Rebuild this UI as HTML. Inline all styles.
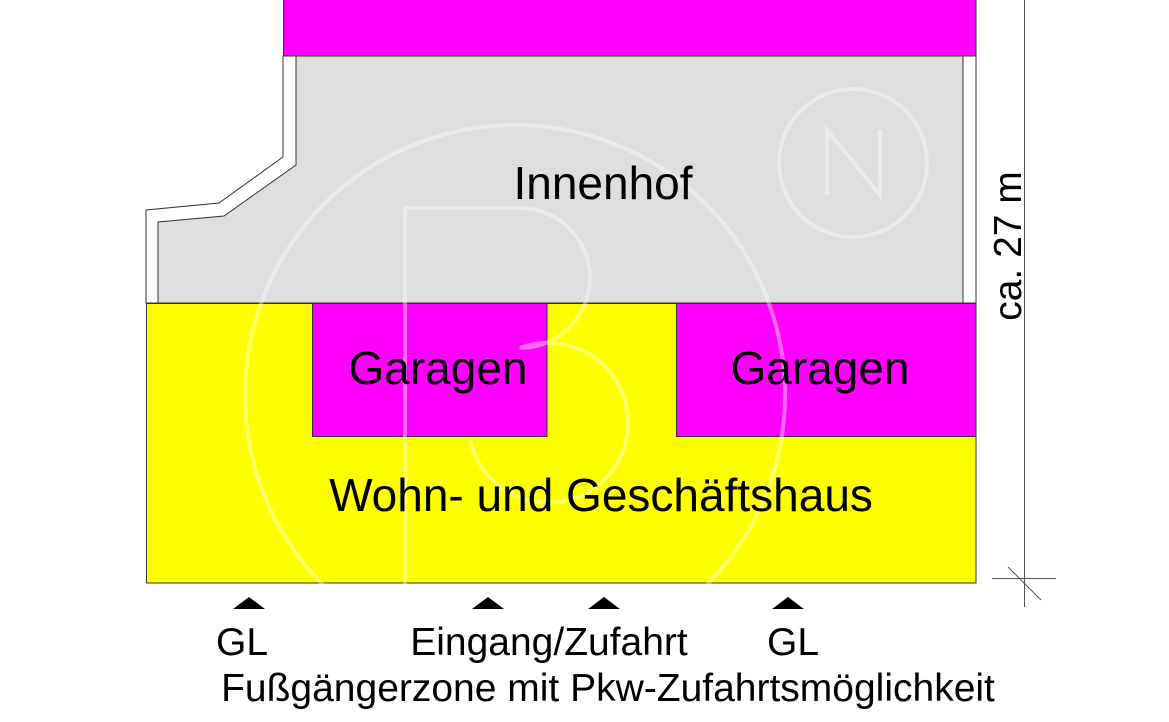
<!DOCTYPE html>
<html><head><style>
html,body{margin:0;padding:0;background:#fff;width:1169px;height:722px;overflow:hidden}
svg text{font-family:"Liberation Sans",sans-serif;fill:#000}
</style></head><body>
<svg width="1169" height="722" viewBox="0 0 1169 722" xmlns="http://www.w3.org/2000/svg">
<rect x="283.5" y="-2" width="692.5" height="58" fill="#ff00ff" stroke="#333" stroke-width="1"/>
<polygon points="146,303 146,210 219,203 283,157 283,56 976,56 976,303" fill="#fff" stroke="#333" stroke-width="1"/>
<polygon points="158,303 158,222 224,216 296,165 296,56 963,56 963,303" fill="#dedede" stroke="#333" stroke-width="1"/>
<rect x="146.5" y="303.5" width="829.5" height="279.5" fill="#ffff00" stroke="#333" stroke-width="1"/>
<rect x="312.5" y="303.5" width="234.5" height="133" fill="#ff00ff" stroke="#333" stroke-width="1"/>
<rect x="676.5" y="303.5" width="299.5" height="133" fill="#ff00ff" stroke="#333" stroke-width="1"/>
<g fill="none" stroke="#fff" stroke-opacity="0.4" stroke-width="4">
<circle cx="515" cy="395" r="270"/>
<circle cx="853" cy="163" r="74"/>
<path d="M405 640 V208 H520 A70 70 0 0 1 520 348 A80 80 0 1 1 470 440"/>
<path d="M827 195 V130 L880 195 V130"/>
</g>
<text x="603" y="199" font-size="46" text-anchor="middle">Innenhof</text>
<text x="438" y="384" font-size="46" text-anchor="middle">Garagen</text>
<text x="820" y="384" font-size="46" text-anchor="middle">Garagen</text>
<text x="601" y="511" font-size="46" text-anchor="middle">Wohn- und Geschäftshaus</text>
<line x1="1024.5" y1="0" x2="1024.5" y2="607" stroke="#555" stroke-width="1"/>
<line x1="992" y1="578.5" x2="1056" y2="578.5" stroke="#555" stroke-width="1"/>
<line x1="1008" y1="567" x2="1041" y2="600" stroke="#555" stroke-width="1"/>
<text transform="translate(1021,246) rotate(-90)" font-size="39" text-anchor="middle">ca. 27 m</text>
<g fill="#000">
<polygon points="233,609 265,609 249,597"/>
<polygon points="472,609 504,609 488,597"/>
<polygon points="588,609 620,609 604,597"/>
<polygon points="772,609 804,609 788,597"/>
</g>
<text x="242" y="655" font-size="39" text-anchor="middle">GL</text>
<text x="549" y="655" font-size="39" text-anchor="middle">Eingang/Zufahrt</text>
<text x="793" y="655" font-size="39" text-anchor="middle">GL</text>
<text x="608" y="701" font-size="39" text-anchor="middle">Fußgängerzone mit Pkw-Zufahrtsmöglichkeit</text>
</svg>
</body></html>
